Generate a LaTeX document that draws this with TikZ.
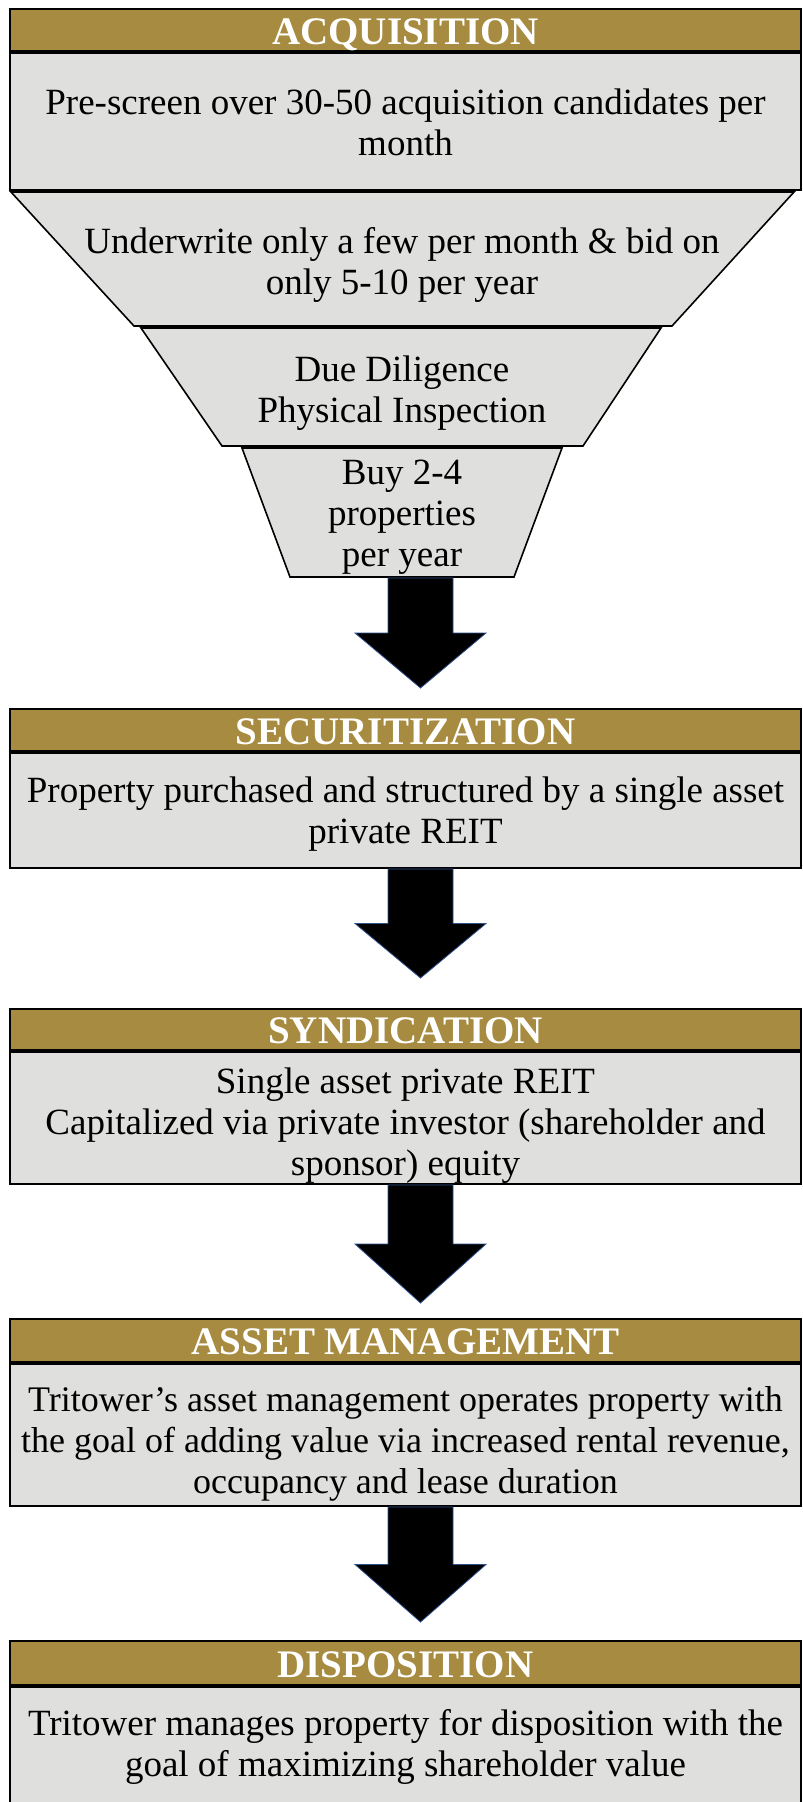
\documentclass[tikz,border=0pt]{standalone}
\usepackage{fontspec}
\setmainfont{Liberation Serif}

\definecolor{headGold}{RGB}{166,139,64}
\definecolor{boxGray}{RGB}{223,223,221}
\definecolor{arrowEdge}{RGB}{47,82,143}

\tikzset{
    headText/.style={text=white, font=\fontsize{39}{44}\selectfont\bfseries,
        anchor=base, inner sep=0pt},
    bodyText/.style={font=\fontsize{37}{41}\selectfont, align=center,
        inner sep=0pt},
    headBar/.style={fill=headGold, draw=black, line width=2pt},
    bodyBox/.style={fill=boxGray, draw=black, line width=2pt},
    funnelPart/.style={fill=boxGray, draw=black, line width=1.6pt,
        line join=miter},
    blockArrow/.style={fill=black, draw=arrowEdge, line width=0.8pt}
}

% header bar: name, top, bottom, title
\newcommand{\stageHeader}[4]
{
    \draw [headBar] (10,#2) rectangle (801,#3);
    \node [headText] (#1) at (405.5,{(#2+#3)/2+14}) {#4};
}

% down arrow between stages: top, tip
\newcommand{\stageArrow}[2]
{
    \draw [blockArrow] (388,#1) -- (453,#1) -- (453,{(#1+#2)/2})
        -- (486,{(#1+#2)/2}) -- (420.5,#2) -- (355,{(#1+#2)/2})
        -- (388,{(#1+#2)/2}) -- cycle;
}

\begin{document}
\begin{tikzpicture}[x=1pt, y=-1pt]

    \clip (0,0) rectangle (803,1802);
    \fill [white] (0,0) rectangle (803,1802);

    %draws acquisition stage:
    \stageHeader{acqTitle}{9}{51}{ACQUISITION};
    \draw [bodyBox] (10,53) rectangle (801,190);
    \node [bodyText] (acqText) at (405.5,122)
        {Pre-screen over 30-50 acquisition candidates per\\month};

    %draws funnel
    \draw [funnelPart] (11,192) -- (794,192) -- (672,326) -- (134,326) -- cycle;
    \draw [funnelPart] (141,328) -- (661,328) -- (583,446) -- (222,446) -- cycle;
    \draw [funnelPart] (242,448) -- (562,448) -- (514,577) -- (290,577) -- cycle;
    \node [bodyText] (underwrite) at (402,265)
        {Underwrite only a few per month \& bid on\\only 5-10 per year};
    \node [bodyText] (diligence) at (402,393)
        {Due Diligence\\Physical Inspection};
    \node [bodyText] (buy) at (402,517)
        {Buy 2-4\\properties\\per year};

    \stageArrow{578}{688};

    %draws securitization stage:
    \stageHeader{secTitle}{709}{751}{SECURITIZATION};
    \draw [bodyBox] (10,753) rectangle (801,868);
    \node [bodyText] (secText) at (405.5,814)
        {Property purchased and structured by a single asset\\private REIT};

    \stageArrow{869}{978};

    %draws syndication stage:
    \stageHeader{synTitle}{1009}{1050}{SYNDICATION};
    \draw [bodyBox] (10,1052) rectangle (801,1184);
    \node [bodyText] (synText) at (405.5,1126)
        {Single asset private REIT\\Capitalized via private investor (shareholder and\\sponsor) equity};

    \stageArrow{1185}{1303};

    %draws asset management stage:
    \stageHeader{amTitle}{1319}{1362}{ASSET MANAGEMENT};
    \draw [bodyBox] (10,1364) rectangle (801,1506);
    \node [bodyText, font=\fontsize{36}{41}\selectfont] (amText) at (405.5,1444)
        {Tritower’s asset management operates property with\\the goal of adding value via increased rental revenue,\\occupancy and lease duration};

    \stageArrow{1507}{1622};

    %draws disposition stage:
    \stageHeader{dispTitle}{1641}{1685}{DISPOSITION};
    \draw [bodyBox] (10,1687) rectangle (801,1830);
    \node [bodyText] (dispText) at (405.5,1747)
        {Tritower manages property for disposition with the\\goal of maximizing shareholder value};

\end{tikzpicture}
\end{document}
